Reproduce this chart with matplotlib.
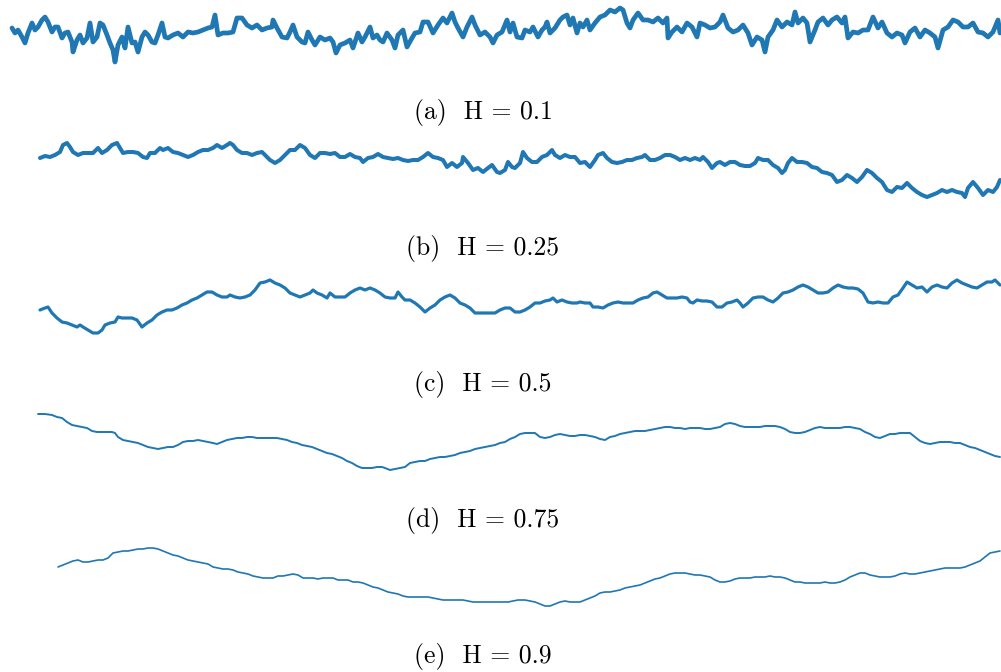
import numpy as np
import matplotlib
matplotlib.use("Agg")
import matplotlib.pyplot as plt

# Sampled fractional Brownian motion paths as (time step, level) pairs
path_h010 = [
    (12, 7), (15, 2), (18, 5), (22, -2), (25, -8), (28, 2), (32, 12), (35, 5), (38, 8), (42, 15),
    (45, 18), (48, 13), (52, 3), (55, 8), (58, 8), (62, -3), (65, 2), (68, 3), (72, -7), (73, -17),
    (77, -5), (80, 0), (83, -8), (87, -3), (90, 12), (93, -7), (97, -2), (100, 12), (103, 10), (107, 0),
    (110, -8), (113, -15), (115, -27), (118, -10), (122, -2), (125, -13), (128, 8), (132, -8), (135, -7), (138, -17),
    (142, -2), (145, 3), (148, 0), (152, -7), (155, -8), (158, 0), (162, 12), (165, -2), (168, -3), (173, 0),
    (178, 2), (183, -2), (188, 3), (193, 2), (198, 3), (203, 5), (208, 7), (212, 8), (215, 20), (218, 0),
    (223, 2), (228, 2), (233, 3), (237, 17), (242, 17), (247, 10), (252, 7), (257, 10), (262, 5), (267, 7),
    (272, 8), (273, 15), (277, 7), (282, -2), (287, -3), (290, 3), (293, 10), (297, -2), (302, -7), (305, -8),
    (308, 3), (312, -5), (315, -10), (320, -2), (325, -5), (330, -3), (333, -7), (336, -18), (340, -10), (345, -8),
    (350, -5), (353, -13), (358, 2), (362, -7), (365, -2), (370, 8), (373, -3), (377, 0), (380, -5), (383, -7),
    (387, 2), (392, -5), (395, -13), (398, 0), (403, 5), (407, -12), (412, -3), (415, 2), (420, 3), (423, 13),
    (428, 13), (433, 2), (438, 10), (443, 17), (447, 12), (452, 22), (455, 13), (458, 7), (463, -2), (467, 8),
    (472, 18), (475, 10), (480, 0), (485, 3), (490, -2), (493, -8), (497, 0), (502, 3), (507, 15), (510, 3),
    (513, 12), (517, -2), (522, -3), (525, 5), (530, 3), (533, 8), (538, -2), (542, 5), (545, 8), (547, 13),
    (550, 2), (555, 7), (560, 15), (563, 18), (567, 20), (570, 10), (573, 17), (577, 2), (580, 12), (583, 8),
    (587, 15), (590, 5), (595, 12), (600, 18), (605, 20), (610, 25), (615, 23), (620, 27), (623, 25), (627, 12),
    (630, 7), (633, 15), (638, 22), (643, 15), (648, 15), (653, 13), (658, 17), (663, 12), (667, 17), (668, -3),
    (672, 3), (677, 8), (682, 3), (687, 12), (692, 8), (697, -2), (700, 12), (705, 10), (710, 7), (715, 8),
    (720, 13), (723, 20), (728, 7), (733, 3), (738, 5), (743, 10), (748, 2), (752, -10), (757, -2), (762, -5),
    (765, -17), (768, -2), (773, 5), (777, 15), (782, 8), (787, 13), (792, 10), (795, 23), (798, 12), (803, 17),
    (807, 12), (810, -7), (815, 5), (818, 13), (823, 17), (828, 10), (832, 15), (837, 18), (842, 12), (845, 18),
    (848, -3), (853, 3), (858, 2), (863, 5), (868, 5), (873, 18), (878, 7), (882, 13), (887, 2), (892, -2),
    (897, 2), (902, 0), (905, -8), (910, 3), (915, 7), (920, -2), (925, 5), (930, 2), (935, -2), (938, -13),
    (943, 5), (948, 8), (953, 15), (958, 13), (963, 8), (968, 8), (973, 12), (978, 3), (983, 2), (988, -2),
    (993, 3), (998, 15), (1000, 2),
]

path_h025 = [
    (40, 12), (45, 14), (50, 13), (55, 15), (60, 18), (63, 25), (67, 27), (70, 23), (73, 18), (78, 15),
    (83, 17), (88, 17), (93, 17), (98, 22), (102, 17), (107, 20), (112, 25), (117, 27), (120, 22), (123, 17),
    (128, 18), (133, 18), (138, 17), (143, 13), (147, 12), (150, 17), (155, 17), (160, 22), (163, 20), (168, 22),
    (173, 18), (178, 17), (183, 15), (188, 13), (193, 15), (198, 18), (203, 20), (208, 20), (213, 22), (217, 25),
    (222, 22), (227, 25), (230, 27), (233, 25), (237, 20), (242, 17), (247, 17), (252, 15), (257, 17), (262, 18),
    (265, 15), (270, 10), (275, 7), (280, 10), (285, 15), (290, 20), (295, 20), (300, 25), (305, 22), (310, 15),
    (315, 12), (320, 17), (325, 17), (330, 16), (335, 17), (340, 13), (345, 13), (350, 16), (355, 13), (360, 12),
    (363, 8), (368, 12), (373, 13), (378, 16), (383, 13), (388, 12), (393, 11), (398, 12), (403, 10), (408, 9),
    (413, 10), (418, 10), (423, 13), (428, 17), (433, 13), (438, 12), (443, 10), (447, 3), (452, 7), (457, 3),
    (462, 7), (463, 13), (468, 7), (473, 0), (478, 2), (483, -2), (488, 2), (492, 5), (497, -2), (500, -3),
    (505, 0), (508, 8), (512, 3), (515, 2), (520, 7), (523, 18), (527, 12), (532, 8), (537, 8), (542, 13),
    (547, 15), (552, 20), (555, 15), (560, 12), (565, 15), (570, 13), (575, 13), (580, 7), (585, 8), (590, 3),
    (595, 10), (598, 15), (603, 17), (607, 12), (612, 8), (617, 7), (622, 8), (627, 10), (632, 10), (637, 12),
    (642, 13), (645, 15), (650, 10), (655, 10), (660, 12), (665, 15), (670, 15), (675, 13), (680, 10), (685, 12),
    (690, 10), (695, 12), (700, 10), (703, 13), (708, 8), (712, 2), (717, 7), (720, 8), (725, 5), (730, 8),
    (735, 8), (740, 5), (745, 4), (750, 4), (755, 7), (758, 12), (763, 10), (768, 10), (773, 5), (778, 2),
    (782, -3), (785, 0), (788, 7), (792, 12), (797, 8), (802, 8), (807, 7), (812, 3), (817, 2), (822, -2),
    (827, -3), (832, -5), (837, -12), (842, -10), (847, -5), (852, -8), (857, -12), (862, -7), (867, 0), (872, -3),
    (877, -8), (882, -12), (887, -20), (892, -22), (897, -17), (902, -18), (907, -13), (912, -18), (917, -22), (922, -25),
    (927, -27), (932, -25), (937, -23), (942, -20), (947, -22), (952, -20), (957, -22), (962, -23), (965, -27), (968, -18),
    (973, -12), (978, -18), (983, -25), (988, -20), (993, -22), (997, -17), (1000, -10),
]

path_h050 = [
    (40, -10), (45, -8), (48, -7), (52, -13), (57, -18), (62, -22), (67, -23), (72, -25), (77, -27), (80, -25),
    (83, -27), (88, -30), (93, -33), (98, -33), (102, -30), (105, -25), (110, -23), (115, -22), (118, -17), (122, -18),
    (127, -18), (132, -18), (137, -20), (142, -27), (147, -23), (152, -20), (157, -15), (162, -12), (167, -10), (172, -10),
    (177, -8), (182, -5), (187, -3), (192, 0), (197, 2), (202, 5), (207, 8), (212, 8), (217, 5), (222, 3),
    (227, 3), (230, 5), (235, 3), (240, 2), (245, 3), (250, 5), (255, 10), (260, 17), (265, 18), (270, 20),
    (275, 17), (280, 15), (285, 12), (290, 7), (295, 5), (300, 3), (305, 5), (310, 7), (313, 10), (317, 7),
    (322, 5), (327, 2), (330, 7), (335, 3), (340, 3), (345, 3), (350, 7), (355, 10), (360, 12), (365, 10),
    (370, 12), (375, 10), (380, 7), (385, 3), (390, 2), (395, 2), (398, 8), (402, 3), (405, 0), (410, 0),
    (415, -3), (420, -7), (425, -12), (430, -8), (435, -5), (440, 0), (445, 3), (450, 5), (455, 2), (460, -3),
    (465, -5), (470, -8), (475, -13), (480, -13), (485, -13), (490, -13), (495, -13), (500, -10), (505, -8), (510, -8),
    (515, -12), (520, -12), (525, -10), (530, -7), (535, -3), (540, -3), (545, -1), (550, 0), (553, 2), (557, -2),
    (562, 0), (567, -2), (572, -3), (577, -3), (580, -2), (585, -3), (590, -3), (593, -7), (598, -7), (603, -8),
    (608, -5), (613, -3), (618, -2), (623, -3), (628, -3), (633, -3), (638, 0), (643, 2), (648, 3), (653, 7),
    (657, 8), (662, 5), (667, 2), (672, 2), (677, 2), (682, 3), (687, 2), (690, -2), (693, -3), (697, 0),
    (702, -1), (707, -1), (712, -2), (717, -7), (722, -7), (727, -3), (732, -2), (737, 0), (740, -3), (743, -7),
    (748, -3), (753, 2), (758, 3), (763, 3), (768, 0), (773, -2), (778, 2), (783, 7), (788, 8), (793, 10),
    (798, 13), (803, 15), (808, 13), (813, 10), (818, 7), (823, 7), (828, 8), (833, 12), (838, 15), (843, 13),
    (848, 12), (853, 12), (858, 11), (863, 7), (868, -2), (873, -3), (878, -2), (883, -3), (888, -3), (893, 3),
    (898, 5), (903, 12), (907, 18), (912, 15), (917, 12), (922, 13), (927, 8), (932, 13), (937, 15), (942, 13),
    (947, 12), (952, 17), (957, 20), (962, 17), (967, 15), (972, 13), (977, 12), (982, 15), (987, 18), (992, 18),
    (995, 20), (1000, 15),
]

path_h075 = [
    (38, 26), (45, 26), (52, 25), (57, 23), (62, 22), (67, 18), (72, 15), (77, 14), (82, 13), (87, 12),
    (92, 9), (97, 8), (102, 8), (107, 8), (112, 8), (115, 7), (118, 3), (123, 0), (128, -1), (133, -2),
    (138, -3), (143, -5), (148, -7), (153, -8), (158, -9), (163, -8), (168, -7), (173, -7), (178, -5), (183, -2),
    (188, -1), (193, -1), (198, 0), (203, -1), (208, -2), (213, -3), (217, -4), (222, -2), (227, 0), (232, 1),
    (237, 2), (242, 2), (247, 3), (252, 3), (257, 2), (262, 2), (267, 2), (272, 2), (277, 2), (282, 1),
    (287, 0), (292, -2), (297, -3), (302, -5), (307, -6), (312, -7), (317, -9), (322, -11), (327, -13), (332, -14),
    (337, -16), (342, -18), (347, -21), (352, -23), (357, -26), (362, -28), (367, -28), (372, -28), (377, -27), (382, -27),
    (385, -28), (390, -30), (395, -29), (400, -28), (405, -27), (410, -23), (415, -22), (420, -21), (425, -21), (430, -19),
    (435, -18), (440, -17), (445, -17), (450, -16), (455, -15), (460, -13), (465, -12), (470, -11), (475, -9), (480, -8),
    (485, -7), (490, -6), (495, -5), (500, -3), (505, -2), (510, 1), (515, 3), (520, 6), (525, 7), (530, 7),
    (535, 7), (540, 3), (545, 2), (550, 3), (555, 5), (560, 6), (565, 5), (570, 4), (575, 4), (580, 5),
    (585, 5), (590, 4), (595, 3), (600, 1), (605, 0), (610, 3), (615, 4), (620, 6), (625, 7), (630, 8),
    (635, 9), (640, 9), (645, 9), (650, 10), (655, 11), (660, 12), (665, 13), (670, 13), (675, 12), (680, 12),
    (685, 11), (690, 12), (695, 12), (700, 12), (705, 11), (710, 11), (715, 12), (720, 13), (725, 16), (730, 17),
    (735, 16), (740, 14), (745, 13), (750, 13), (755, 13), (760, 13), (765, 14), (770, 14), (775, 14), (780, 13),
    (785, 11), (790, 8), (795, 7), (800, 7), (805, 8), (810, 10), (815, 12), (820, 13), (825, 12), (830, 12),
    (835, 12), (840, 12), (845, 13), (850, 13), (855, 12), (860, 11), (865, 8), (870, 6), (875, 3), (880, 2),
    (885, 4), (890, 6), (895, 6), (900, 7), (905, 7), (910, 7), (915, 3), (920, -1), (925, -3), (930, -4),
    (935, -3), (940, -2), (945, -2), (950, -2), (955, -3), (960, -3), (965, -5), (970, -7), (975, -8), (980, -10),
    (985, -12), (990, -14), (995, -16), (1000, -17),
]

path_h090 = [
    (58, 8), (63, 10), (68, 12), (73, 14), (78, 15), (83, 13), (88, 13), (93, 14), (98, 15), (103, 15),
    (108, 17), (113, 22), (118, 23), (123, 24), (128, 24), (133, 25), (138, 26), (143, 26), (148, 27), (153, 27),
    (158, 26), (163, 24), (168, 22), (173, 20), (178, 19), (183, 17), (188, 15), (193, 14), (198, 13), (203, 12),
    (208, 11), (213, 8), (218, 7), (223, 6), (228, 6), (233, 5), (238, 3), (243, 2), (248, 1), (253, -1),
    (258, -2), (263, -3), (268, -3), (273, -3), (278, -1), (283, -1), (288, 0), (293, 1), (298, 0), (303, -3),
    (308, -3), (313, -3), (318, -4), (323, -3), (328, -3), (333, -3), (338, -5), (343, -5), (348, -5), (353, -7),
    (358, -7), (363, -8), (368, -10), (373, -12), (378, -13), (383, -15), (388, -17), (393, -18), (398, -19), (403, -21),
    (408, -22), (413, -22), (418, -22), (423, -22), (428, -22), (433, -23), (438, -24), (443, -25), (448, -25), (453, -25),
    (458, -25), (463, -25), (468, -26), (473, -27), (478, -27), (483, -27), (488, -27), (493, -27), (498, -27), (503, -27),
    (508, -27), (513, -26), (518, -25), (525, -25), (530, -26), (535, -27), (540, -29), (545, -31), (550, -31), (555, -29),
    (560, -27), (565, -26), (570, -27), (575, -27), (580, -27), (585, -25), (590, -23), (595, -21), (600, -18), (605, -17),
    (610, -17), (615, -16), (620, -15), (625, -13), (630, -12), (635, -11), (640, -10), (645, -8), (650, -6), (655, -4),
    (660, -3), (665, -1), (670, 1), (675, 2), (680, 2), (685, 2), (690, 1), (695, 0), (700, 0), (705, -1),
    (710, -2), (715, -5), (720, -7), (725, -7), (730, -6), (735, -4), (740, -3), (745, -3), (750, -3), (755, -2),
    (760, -2), (765, -2), (770, -1), (775, -2), (780, -2), (785, -3), (790, -5), (795, -7), (800, -7), (805, -8),
    (810, -8), (815, -8), (820, -8), (825, -7), (830, -8), (835, -8), (840, -7), (845, -5), (850, -2), (855, 0),
    (860, 2), (865, 2), (870, 0), (875, -1), (880, -2), (885, -2), (890, -2), (895, -1), (900, 1), (905, 2),
    (910, 1), (915, 1), (920, 2), (925, 3), (930, 4), (935, 5), (940, 6), (945, 7), (950, 7), (955, 7),
    (960, 7), (965, 8), (970, 10), (975, 12), (980, 14), (985, 18), (990, 22), (995, 23), (1000, 24),
]

hurst_values = [0.1, 0.25, 0.5, 0.75, 0.9]
panel_letters = ["a", "b", "c", "d", "e"]
paths = [path_h010, path_h025, path_h050, path_h075, path_h090]

W, H = 1001, 672


def draw_panel(fig, path, letter, hurst, center, label_y, lw):
    """
    One sample path in its own frameless strip, caption underneath.
    """
    ax = fig.add_axes([0, (H - center - 40) / H, 1, 80 / H])
    t, level = np.array(path, dtype=float).T
    ax.plot(t, level, color="#1f77b4", lw=lw,
            solid_joinstyle="round", solid_capstyle="round")
    ax.set_xlim(0, W)
    ax.set_ylim(-40, 40)
    ax.axis("off")
    # caption, a little wider spacing after the panel letter
    fig.text(483 / W, 1 - label_y / H, f"({letter})  H = {hurst}",
             ha="center", va="center", family="cmr10", fontsize=18.5)


def main():
    fig = plt.figure(figsize=(W / 100, H / 100), dpi=100)
    centers = [35, 170, 300, 440, 575]
    label_ys = [113, 248, 385, 520, 657]
    widths = [3.4, 2.9, 2.3, 1.4, 1.2]
    for path, letter, hurst, c, ly, lw in zip(paths, panel_letters, hurst_values,
                                              centers, label_ys, widths):
        draw_panel(fig, path, letter, hurst, c, ly, lw)
    fig.savefig("out.png", dpi=100)
    plt.close(fig)


if __name__ == "__main__":
    main()
